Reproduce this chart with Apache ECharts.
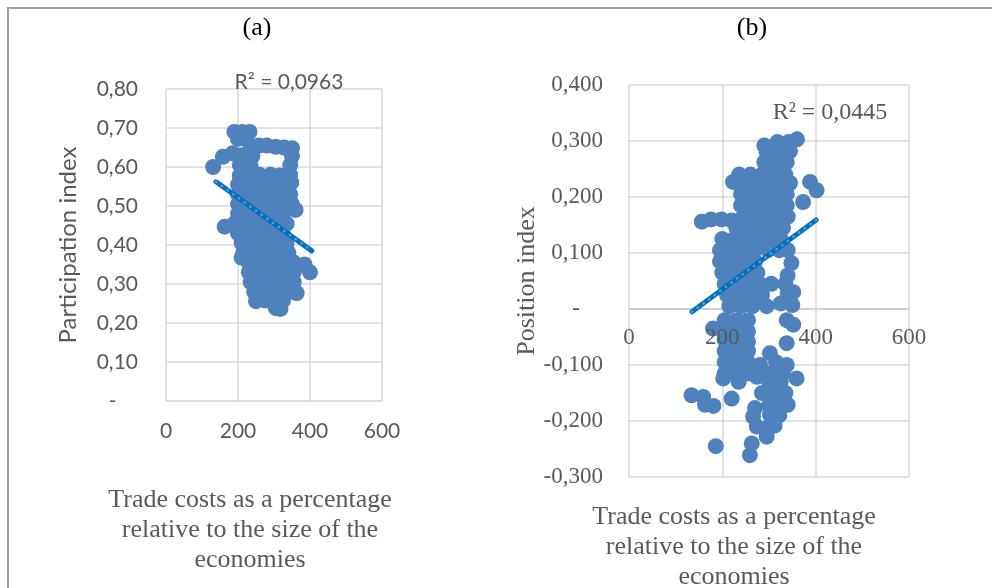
<!DOCTYPE html>
<html>
<head>
<meta charset="utf-8">
<script src="https://cdn.jsdelivr.net/npm/echarts@6/dist/echarts.min.js"></script>
<style>
  html, body { margin: 0; padding: 0; background: #fff; }
  #chart { width: 992px; height: 588px; }
</style>
</head>
<body>
<div id="chart"></div>
<script>
// tick labels
const xTicks = ['0', '200', '400', '600']
const yTicksA = ['-', '0,10', '0,20', '0,30', '0,40', '0,50', '0,60', '0,70', '0,80']
const yTicksB = ['-0,300', '-0,200', '-0,100', '-', '0,100', '0,200', '0,300', '0,400']

// (a) trade costs vs participation index
const pointsA = [
  [190, 0.690], [212, 0.690], [232, 0.690],
  [200, 0.672], [222, 0.672],
  [235, 0.655], [258, 0.655], [280, 0.655], [305, 0.652], [328, 0.650], [350, 0.648],
  [158, 0.626], [185, 0.635], [210, 0.630], [240, 0.628], [350, 0.628],
  [131, 0.600], [205, 0.605], [235, 0.602], [345, 0.605],
  [205, 0.578], [230, 0.578], [260, 0.580], [290, 0.580], [315, 0.578], [345, 0.580],
  [200, 0.555], [225, 0.555], [250, 0.555], [275, 0.555], [300, 0.555], [325, 0.555], [348, 0.560],
  [200, 0.530], [225, 0.530], [250, 0.530], [275, 0.530], [300, 0.530], [325, 0.530], [345, 0.530],
  [200, 0.505], [225, 0.505], [250, 0.505], [275, 0.505], [300, 0.505], [325, 0.505], [350, 0.505], [360, 0.490],
  [200, 0.480], [225, 0.480], [250, 0.480], [275, 0.480], [300, 0.480], [325, 0.480],
  [163, 0.447], [190, 0.455], [215, 0.455], [240, 0.455], [265, 0.455], [290, 0.455], [315, 0.455], [335, 0.455],
  [200, 0.430], [225, 0.430], [250, 0.430], [275, 0.430], [300, 0.430], [325, 0.430],
  [210, 0.405], [235, 0.405], [260, 0.405], [285, 0.405], [310, 0.405], [335, 0.405],
  [215, 0.380], [240, 0.380], [265, 0.380], [290, 0.380], [315, 0.380], [340, 0.380],
  [210, 0.368], [230, 0.355], [255, 0.355], [280, 0.355], [305, 0.355], [330, 0.355], [355, 0.355],
  [385, 0.350], [400, 0.330],
  [230, 0.330], [255, 0.330], [280, 0.330], [305, 0.330], [330, 0.330], [355, 0.330],
  [235, 0.305], [260, 0.305], [285, 0.305], [310, 0.305], [335, 0.305], [355, 0.305],
  [245, 0.280], [270, 0.280], [295, 0.280], [320, 0.280], [345, 0.280], [363, 0.277],
  [250, 0.256], [275, 0.258], [300, 0.258], [325, 0.258],
  [305, 0.238], [318, 0.236]
]
const trendA = [[139, 0.562], [405, 0.385]]

// (b) trade costs vs position index
const pointsB = [
  [290, 0.292], [318, 0.298], [342, 0.298], [360, 0.303],
  [295, 0.280], [320, 0.280], [345, 0.282],
  [290, 0.262], [315, 0.262], [338, 0.262],
  [236, 0.240], [260, 0.240], [285, 0.240], [310, 0.240], [335, 0.240],
  [223, 0.227], [250, 0.225], [275, 0.225], [300, 0.225], [325, 0.225], [345, 0.225], [388, 0.227],
  [402, 0.212],
  [240, 0.205], [265, 0.205], [290, 0.205], [315, 0.205], [338, 0.205],
  [373, 0.191],
  [240, 0.185], [265, 0.185], [290, 0.185], [315, 0.185], [338, 0.185],
  [245, 0.165], [270, 0.165], [295, 0.165], [320, 0.165], [340, 0.165],
  [156, 0.156], [176, 0.160], [198, 0.160], [220, 0.158],
  [230, 0.145], [255, 0.145], [280, 0.145], [305, 0.145], [330, 0.145],
  [200, 0.125], [225, 0.125], [250, 0.125], [275, 0.125], [300, 0.125], [325, 0.125],
  [195, 0.105], [220, 0.105], [245, 0.105], [270, 0.105], [298, 0.105], [322, 0.105], [340, 0.105],
  [195, 0.085], [220, 0.085], [245, 0.085], [270, 0.085], [348, 0.082],
  [200, 0.065], [225, 0.065], [250, 0.065], [275, 0.065], [340, 0.060],
  [205, 0.045], [230, 0.045], [255, 0.045], [280, 0.045], [305, 0.045], [335, 0.045],
  [210, 0.025], [235, 0.025], [260, 0.025], [285, 0.025], [340, 0.028], [352, 0.030],
  [215, 0.005], [240, 0.005], [265, 0.005], [295, 0.005], [325, 0.010], [350, 0.007],
  [205, -0.020], [230, -0.020], [255, -0.020], [338, -0.020], [352, -0.028],
  [180, -0.035], [210, -0.035], [235, -0.035], [255, -0.040],
  [205, -0.055], [230, -0.055], [255, -0.058], [338, -0.061],
  [205, -0.075], [230, -0.075], [255, -0.075], [302, -0.079],
  [205, -0.095], [230, -0.095], [255, -0.095], [281, -0.100], [315, -0.095], [338, -0.100],
  [205, -0.115], [230, -0.115], [255, -0.115], [274, -0.121], [305, -0.115], [330, -0.115], [359, -0.124],
  [202, -0.124], [235, -0.130], [300, -0.130], [325, -0.130],
  [220, -0.160], [285, -0.150], [310, -0.150], [335, -0.150],
  [134, -0.154], [159, -0.157], [163, -0.171], [181, -0.173],
  [270, -0.177], [300, -0.172], [325, -0.172], [340, -0.171],
  [266, -0.192], [302, -0.189], [322, -0.190],
  [274, -0.210], [300, -0.210], [312, -0.208],
  [295, -0.228], [263, -0.240], [259, -0.261], [186, -0.245]
]
const trendB = [[135, -0.005], [401, 0.159]]

const chart = echarts.init(document.getElementById('chart'))
const grey = '#595959'
const gridLine = { lineStyle: { color: '#d9d9d9', width: 1.5 } }
const sans = 'Lato'
const serif = 'Liberation Serif'
const dash = (s) => (s === '-' ? '-    ' : s)
const xName = 'Trade costs as a percentage\nrelative to the size of the\neconomies'

// plot (b): y from -0,3 to 0,4; the category labels sit on the zero line
const gridB = { left: 629, top: 85, width: 280, height: 392 }
const bMin = -0.3, bMax = 0.4
const zeroOffset = -gridB.height * (0 - bMin) / (bMax - bMin)

const option = {
  backgroundColor: '#fff',
  animation: false,
  grid: [
    { left: 166, top: 89, width: 216, height: 312, outerBoundsMode: 'none' },
    Object.assign({ outerBoundsMode: 'none' }, gridB)
  ],
  xAxis: [
    {
      gridIndex: 0, type: 'value', min: 0, max: 600, interval: 200,
      axisLine: { lineStyle: { color: '#d9d9d9', width: 1.5 } },
      axisTick: { show: false },
      splitLine: gridLine,
      axisLabel: { color: grey, fontFamily: sans, fontSize: 21, margin: 20,
        formatter: (v) => xTicks[Math.round(v / 200)] },
      name: xName, nameLocation: 'middle', nameGap: 84,
      nameTextStyle: { color: grey, fontFamily: serif, fontSize: 26, lineHeight: 30, padding: [0, 48, 0, 0] }
    },
    {
      // tick labels along the zero line, over the points like the original
      gridIndex: 1, type: 'value', min: 0, max: 600, interval: 200, z: 10,
      position: 'bottom', offset: zeroOffset,
      axisLine: { show: false, onZero: false },
      axisTick: { show: false },
      splitLine: { show: false },
      axisLabel: { color: grey, fontFamily: serif, fontSize: 23, margin: 17,
        formatter: (v) => xTicks[Math.round(v / 200)] }
    },
    {
      // grid lines and title of (b)
      gridIndex: 1, type: 'value', min: 0, max: 600, interval: 200,
      position: 'bottom',
      axisLine: { show: false, onZero: false },
      axisTick: { show: false },
      splitLine: gridLine,
      axisLabel: { show: false },
      name: xName, nameLocation: 'middle', nameGap: 25,
      nameTextStyle: { color: grey, fontFamily: serif, fontSize: 26, lineHeight: 30, padding: [0, 70, 0, 0] }
    }
  ],
  yAxis: [
    {
      gridIndex: 0, type: 'value', min: 0, max: 0.8, interval: 0.1,
      axisLine: { show: false }, axisTick: { show: false },
      splitLine: gridLine,
      axisLabel: { color: grey, fontFamily: sans, fontSize: 21, margin: 28,
        formatter: (v) => dash(yTicksA[Math.round(v / 0.1)]) },
      name: 'Participation index', nameLocation: 'middle', nameGap: 86,
      nameTextStyle: { color: grey, fontFamily: sans, fontSize: 24 }
    },
    {
      gridIndex: 1, type: 'value', min: bMin, max: bMax, interval: 0.1,
      axisLine: { show: false }, axisTick: { show: false },
      splitLine: { lineStyle: { color: ['#d9d9d9', '#d9d9d9', '#d9d9d9', '#bfbfbf', '#d9d9d9', '#d9d9d9', '#d9d9d9', '#d9d9d9'], width: 1.5 } },
      axisLabel: { color: grey, fontFamily: serif, fontSize: 23, margin: 26,
        formatter: (v) => dash(yTicksB[Math.round((v - bMin) / 0.1)]) },
      name: 'Position index', nameLocation: 'middle', nameGap: 83,
      nameTextStyle: { color: grey, fontFamily: serif, fontSize: 26 }
    }
  ],
  graphic: [
    { type: 'rect', shape: { x: 8, y: 8, width: 1000, height: 600 },
      style: { fill: 'none', stroke: '#a0a0a0', lineWidth: 2 }, silent: true },
    { type: 'text', x: 257, y: 28, style: { text: '(a)', fill: '#000', font: '26px "Liberation Serif"', textAlign: 'center', textVerticalAlign: 'middle' } },
    { type: 'text', x: 752, y: 28, style: { text: '(b)', fill: '#000', font: '26px "Liberation Serif"', textAlign: 'center', textVerticalAlign: 'middle' } },
    { type: 'text', x: 289, y: 82, z: 20, style: { text: 'R² = 0,0963', fill: grey, font: '21px Lato', textAlign: 'center', textVerticalAlign: 'middle' } },
    { type: 'text', x: 830, y: 113, z: 20, style: { text: 'R² = 0,0445', fill: grey, font: '24px "Liberation Serif"', textAlign: 'center', textVerticalAlign: 'middle' } }
  ],
  series: [
    { type: 'scatter', xAxisIndex: 0, yAxisIndex: 0, data: pointsA, symbolSize: 16,
      itemStyle: { color: '#4F81BD', opacity: 1 } },
    { type: 'line', xAxisIndex: 0, yAxisIndex: 0, data: trendA, symbol: 'none', z: 3,
      lineStyle: { color: '#0070C0', width: 5, cap: 'round' } },
    { type: 'line', xAxisIndex: 0, yAxisIndex: 0, data: trendA, symbol: 'none', z: 4,
      lineStyle: { color: '#5B9BD5', width: 2.5, type: [0.5, 6.5], cap: 'round' } },
    { type: 'scatter', xAxisIndex: 1, yAxisIndex: 1, data: pointsB, symbolSize: 16,
      itemStyle: { color: '#4F81BD', opacity: 1 } },
    { type: 'line', xAxisIndex: 1, yAxisIndex: 1, data: trendB, symbol: 'none', z: 3,
      lineStyle: { color: '#0070C0', width: 5, cap: 'round' } },
    { type: 'line', xAxisIndex: 1, yAxisIndex: 1, data: trendB, symbol: 'none', z: 4,
      lineStyle: { color: '#5B9BD5', width: 2.5, type: [0.5, 6.5], cap: 'round' } }
  ]
}
chart.setOption(option)
</script>
</body>
</html>
